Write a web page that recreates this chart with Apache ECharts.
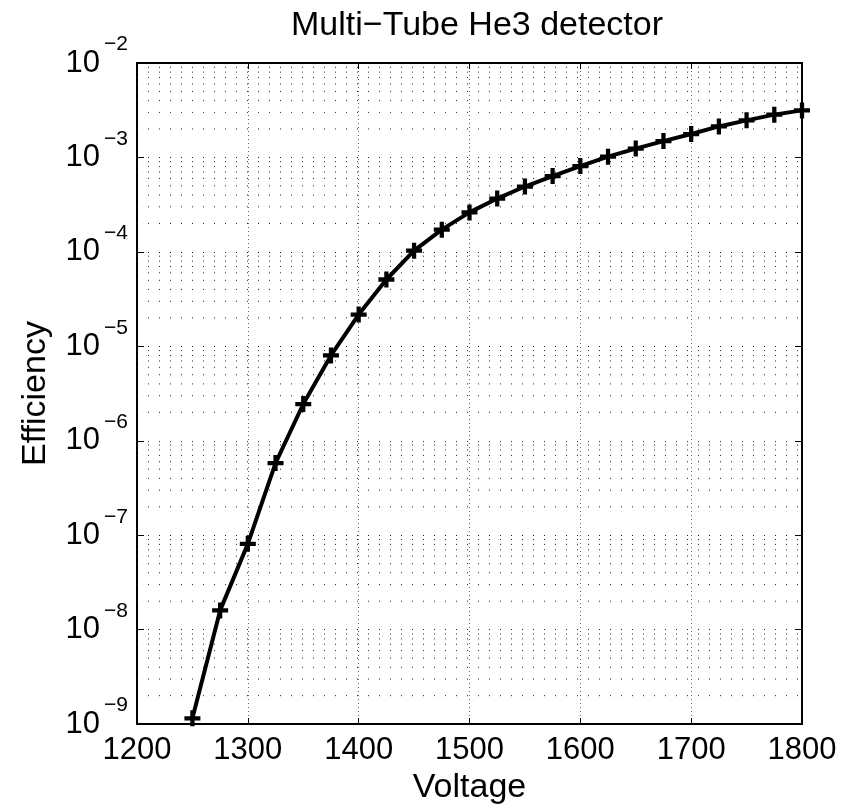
<!DOCTYPE html>
<html>
<head>
<meta charset="utf-8">
<script src="https://cdn.jsdelivr.net/npm/echarts@6/dist/echarts.min.js"></script>
<style>
html,body{margin:0;padding:0;background:#fff;}
#chart{width:852px;height:810px;}
</style>
</head>
<body>
<div id="chart"></div>
<script>
// ---- data ----
const voltage = [1250, 1275, 1300, 1325, 1350, 1375, 1400, 1425, 1450, 1475, 1500, 1525,
                 1550, 1575, 1600, 1625, 1650, 1675, 1700, 1725, 1750, 1775, 1800];
const efficiency = [1.15e-9, 1.6e-8, 8.1e-8, 5.8e-7, 2.45e-6, 8.0e-6, 2.17e-5, 5.1e-5, 1.03e-4,
                    1.72e-4, 2.62e-4, 3.67e-4, 4.92e-4, 6.35e-4, 8.1e-4, 1.02e-3, 1.24e-3,
                    1.49e-3, 1.77e-3, 2.13e-3, 2.47e-3, 2.84e-3, 3.15e-3];
const xTicks = [1200, 1300, 1400, 1500, 1600, 1700, 1800];
const yExponents = [-9, -8, -7, -6, -5, -4, -3, -2];
const minorMultipliers = [2, 3, 4, 5, 6, 7, 8, 9];
const titleText = 'Multi\u2212Tube He3 detector';
const xName = 'Voltage';
const yName = 'Efficiency';

const FONT = '"Liberation Sans", Arial, Helvetica, sans-serif';
const seriesData = voltage.map((v, i) => [v, efficiency[i]]);
const xMin = xTicks[0], xMax = xTicks[xTicks.length - 1];
const yMin = Math.pow(10, yExponents[0]);
const yMax = Math.pow(10, yExponents[yExponents.length - 1]);

// minor log grid lines (2..9 x 10^k), drawn as plain dotted line series through the axes
const minorValues = [];
for (let e = yExponents[0]; e < yExponents[yExponents.length - 1]; e++) {
  minorMultipliers.forEach(k => minorValues.push(k * Math.pow(10, e)));
}
const gridSeries = minorValues.map(v => ({
  type: 'line',
  xAxisIndex: 0,
  yAxisIndex: 0,
  data: [[xMin, v], [xMax, v]],
  symbol: 'none',
  silent: true,
  z: 1,
  lineStyle: { color: '#222', width: 1, type: [1, 10] },
  emphasis: { disabled: true },
  tooltip: { show: false }
}));

const expText = e => (e < 0 ? '\u2212' + (-e) : String(e));

const chart = echarts.init(document.getElementById('chart'), null, { renderer: 'canvas' });

const baseY = {
  type: 'log',
  logBase: 10,
  min: yMin,
  max: yMax,
  interval: 1
};

const option = {
  animation: false,
  backgroundColor: '#fff',
  textStyle: { fontFamily: FONT, color: '#000' },
  title: {
    text: titleText,
    left: 472,
    top: 4,
    textAlign: 'center',
    textStyle: { fontFamily: FONT, fontSize: 34, fontWeight: 'normal', color: '#000' }
  },
  grid: { left: 137, right: 50, top: 63, bottom: 82, containLabel: false },
  xAxis: [{
    type: 'value',
    position: 'bottom',
    min: xMin,
    max: xMax,
    interval: 100,
    name: xName,
    nameLocation: 'middle',
    nameGap: 45,
    nameTextStyle: { fontFamily: FONT, fontSize: 34, color: '#000' },
    axisLine: { show: true, onZero: false, lineStyle: { color: '#000', width: 2 } },
    axisTick: { show: true, inside: true, length: 6, lineStyle: { color: '#000', width: 1 } },
    axisLabel: { fontFamily: FONT, fontSize: 31, color: '#000', margin: 11, formatter: v => String(v) },
    splitLine: { show: true, lineStyle: { color: '#666', width: 1, type: [1, 3] } }
  }, {
    type: 'value',
    position: 'top',
    min: xMin,
    max: xMax,
    interval: 100,
    axisLine: { show: true, onZero: false, lineStyle: { color: '#000', width: 2 } },
    axisTick: { show: true, inside: true, length: 6, lineStyle: { color: '#000', width: 1 } },
    axisLabel: { show: false },
    splitLine: { show: false }
  }],
  yAxis: [Object.assign({}, baseY, {
    position: 'left',
    name: yName,
    nameLocation: 'middle',
    nameGap: 84,
    nameTextStyle: { fontFamily: FONT, fontSize: 34, color: '#000' },
    axisLine: { show: true, onZero: false, lineStyle: { color: '#000', width: 2 } },
    axisTick: { show: true, inside: true, length: 7, lineStyle: { color: '#000', width: 1 } },
    axisLabel: {
      margin: 37,
      fontFamily: FONT, fontSize: 31, color: '#000',
      verticalAlign: 'middle',
      padding: [7, 0, 0, 0],
      formatter: () => '10'
    },
    splitLine: { show: true, lineStyle: { color: '#222', width: 1, type: [1, 10] } }
  }), Object.assign({}, baseY, {
    position: 'right',
    axisLine: { show: true, onZero: false, lineStyle: { color: '#000', width: 2 } },
    axisTick: { show: true, inside: true, length: 7, lineStyle: { color: '#000', width: 1 } },
    axisLabel: { show: false },
    splitLine: { show: false }
  }), Object.assign({}, baseY, {
    // exponent labels of the left axis (superscripts)
    position: 'left',
    axisLine: { show: false },
    axisTick: { show: false },
    splitLine: { show: false },
    axisLabel: {
      margin: 9,
      fontFamily: FONT, fontSize: 21, color: '#000',
      verticalAlign: 'bottom',
      padding: [0, 0, 8, 0],
      formatter: v => expText(Math.round(Math.log10(v)))
    }
  })],
  series: gridSeries.concat([{
    type: 'line',
    xAxisIndex: 0,
    yAxisIndex: 0,
    data: seriesData,
    smooth: false,
    symbol: 'path://M0,5.5H15V9.5H0Z M5.5,0H9.5V15H5.5Z',
    symbolSize: 16,
    showAllSymbol: true,
    clip: false,
    itemStyle: { color: '#000' },
    lineStyle: { color: '#000', width: 4 },
    z: 5
  }])
};
chart.setOption(option);
</script>
</body>
</html>
